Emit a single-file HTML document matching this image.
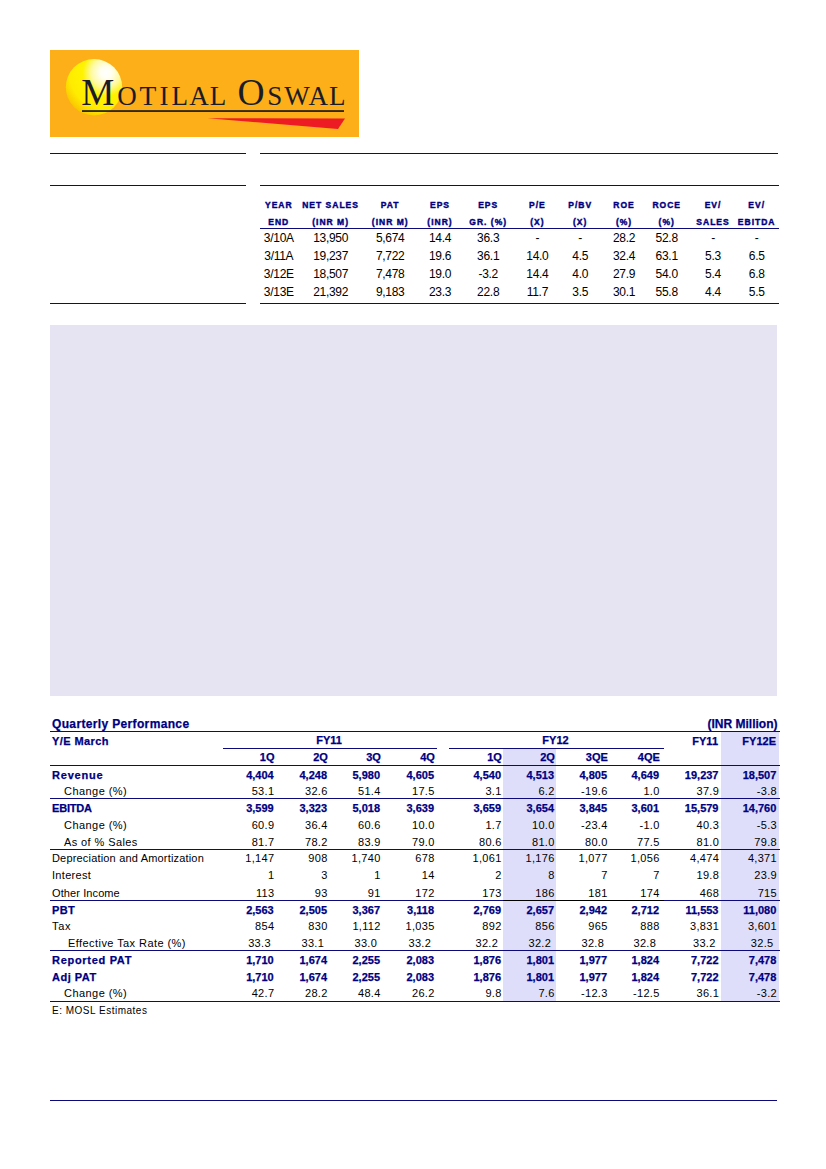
<!DOCTYPE html>
<html><head><meta charset="utf-8"><title>Motilal Oswal</title>
<style>
html,body{margin:0;padding:0;background:#fff;}
body{width:826px;height:1169px;position:relative;overflow:hidden;font-family:"Liberation Sans",sans-serif;color:#000;}
.t{position:absolute;white-space:nowrap;}
.r{position:absolute;}
</style></head><body>
<svg class="logo" width="310" height="88" viewBox="0 0 310 88" style="position:absolute;left:50px;top:50px">
<defs>
<radialGradient id="sun" cx="0.71" cy="0.24" r="0.86" fx="0.71" fy="0.24">
<stop offset="0" stop-color="#ffffff"/>
<stop offset="0.12" stop-color="#fffff0"/>
<stop offset="0.3" stop-color="#fffaa0"/>
<stop offset="0.48" stop-color="#fff300"/>
<stop offset="0.75" stop-color="#ffec00"/>
<stop offset="0.9" stop-color="#fbd200"/>
<stop offset="1" stop-color="#f8c000"/>
</radialGradient>
</defs>
<rect x="0" y="0" width="309" height="87" fill="#fcaf19"/>
<circle cx="44" cy="37.3" r="28.2" fill="url(#sun)"/>
<polygon points="157.5,68.2 295,68.4 288,79" fill="#ed1c24"/>
<rect x="32" y="60.2" width="262" height="1.7" fill="#1a1a26"/>
<g font-family="Liberation Serif" fill="#1c1c28" text-anchor="middle"><text x="47.80" y="54.8" font-size="37.2">M</text><text x="76.90" y="54.8" font-size="27">O</text><text x="98.00" y="54.8" font-size="27.5">T</text><text x="114.00" y="54.8" font-size="27">I</text><text x="129.70" y="54.8" font-size="27">L</text><text x="149.00" y="54.8" font-size="27">A</text><text x="168.00" y="54.8" font-size="27">L</text><text x="201.10" y="54.8" font-size="37.5">O</text><text x="224.80" y="54.8" font-size="27">S</text><text x="246.90" y="54.8" font-size="27">W</text><text x="268.30" y="54.8" font-size="27">A</text><text x="287.20" y="54.8" font-size="27">L</text></g>
</svg>
<div class="r" style="left:50px;top:153px;width:196px;height:1px;background:#0c0a7a"></div>
<div class="r" style="left:260px;top:153px;width:518px;height:1px;background:#0c0a7a"></div>
<div class="r" style="left:50px;top:185px;width:196px;height:1px;background:#0c0a7a"></div>
<div class="r" style="left:260px;top:185px;width:519px;height:1px;background:#0c0a7a"></div>
<div class="r" style="left:260px;top:228px;width:519px;height:1px;background:#0c0a7a"></div>
<div class="r" style="left:50px;top:303px;width:196px;height:1px;background:#0c0a7a"></div>
<div class="r" style="left:260px;top:303px;width:519px;height:1px;background:#0c0a7a"></div>
<div class="t" style="top:200.80px;font-size:8.5px;line-height:8.5px;font-weight:bold;-webkit-text-stroke:0.25px;color:#000080;letter-spacing:1.0px;left:218.80px;width:120px;text-align:center;-webkit-text-stroke:0.4px #000080;">YEAR</div>
<div class="t" style="top:217.80px;font-size:8.5px;line-height:8.5px;font-weight:bold;-webkit-text-stroke:0.25px;color:#000080;letter-spacing:1.0px;left:218.80px;width:120px;text-align:center;-webkit-text-stroke:0.4px #000080;">END</div>
<div class="t" style="top:200.80px;font-size:8.5px;line-height:8.5px;font-weight:bold;-webkit-text-stroke:0.25px;color:#000080;letter-spacing:1.0px;left:270.60px;width:120px;text-align:center;-webkit-text-stroke:0.4px #000080;">NET SALES</div>
<div class="t" style="top:217.80px;font-size:8.5px;line-height:8.5px;font-weight:bold;-webkit-text-stroke:0.25px;color:#000080;letter-spacing:1.0px;left:270.60px;width:120px;text-align:center;-webkit-text-stroke:0.4px #000080;">(INR M)</div>
<div class="t" style="top:200.80px;font-size:8.5px;line-height:8.5px;font-weight:bold;-webkit-text-stroke:0.25px;color:#000080;letter-spacing:1.0px;left:330.20px;width:120px;text-align:center;-webkit-text-stroke:0.4px #000080;">PAT</div>
<div class="t" style="top:217.80px;font-size:8.5px;line-height:8.5px;font-weight:bold;-webkit-text-stroke:0.25px;color:#000080;letter-spacing:1.0px;left:330.20px;width:120px;text-align:center;-webkit-text-stroke:0.4px #000080;">(INR M)</div>
<div class="t" style="top:200.80px;font-size:8.5px;line-height:8.5px;font-weight:bold;-webkit-text-stroke:0.25px;color:#000080;letter-spacing:1.0px;left:380.00px;width:120px;text-align:center;-webkit-text-stroke:0.4px #000080;">EPS</div>
<div class="t" style="top:217.80px;font-size:8.5px;line-height:8.5px;font-weight:bold;-webkit-text-stroke:0.25px;color:#000080;letter-spacing:1.0px;left:380.00px;width:120px;text-align:center;-webkit-text-stroke:0.4px #000080;">(INR)</div>
<div class="t" style="top:200.80px;font-size:8.5px;line-height:8.5px;font-weight:bold;-webkit-text-stroke:0.25px;color:#000080;letter-spacing:1.0px;left:428.20px;width:120px;text-align:center;-webkit-text-stroke:0.4px #000080;">EPS</div>
<div class="t" style="top:217.80px;font-size:8.5px;line-height:8.5px;font-weight:bold;-webkit-text-stroke:0.25px;color:#000080;letter-spacing:1.0px;left:428.20px;width:120px;text-align:center;-webkit-text-stroke:0.4px #000080;">GR. (%)</div>
<div class="t" style="top:200.80px;font-size:8.5px;line-height:8.5px;font-weight:bold;-webkit-text-stroke:0.25px;color:#000080;letter-spacing:1.0px;left:477.40px;width:120px;text-align:center;-webkit-text-stroke:0.4px #000080;">P/E</div>
<div class="t" style="top:217.80px;font-size:8.5px;line-height:8.5px;font-weight:bold;-webkit-text-stroke:0.25px;color:#000080;letter-spacing:1.0px;left:477.40px;width:120px;text-align:center;-webkit-text-stroke:0.4px #000080;">(X)</div>
<div class="t" style="top:200.80px;font-size:8.5px;line-height:8.5px;font-weight:bold;-webkit-text-stroke:0.25px;color:#000080;letter-spacing:1.0px;left:520.20px;width:120px;text-align:center;-webkit-text-stroke:0.4px #000080;">P/BV</div>
<div class="t" style="top:217.80px;font-size:8.5px;line-height:8.5px;font-weight:bold;-webkit-text-stroke:0.25px;color:#000080;letter-spacing:1.0px;left:520.20px;width:120px;text-align:center;-webkit-text-stroke:0.4px #000080;">(X)</div>
<div class="t" style="top:200.80px;font-size:8.5px;line-height:8.5px;font-weight:bold;-webkit-text-stroke:0.25px;color:#000080;letter-spacing:1.0px;left:564.00px;width:120px;text-align:center;-webkit-text-stroke:0.4px #000080;">ROE</div>
<div class="t" style="top:217.80px;font-size:8.5px;line-height:8.5px;font-weight:bold;-webkit-text-stroke:0.25px;color:#000080;letter-spacing:1.0px;left:564.00px;width:120px;text-align:center;-webkit-text-stroke:0.4px #000080;">(%)</div>
<div class="t" style="top:200.80px;font-size:8.5px;line-height:8.5px;font-weight:bold;-webkit-text-stroke:0.25px;color:#000080;letter-spacing:1.0px;left:606.70px;width:120px;text-align:center;-webkit-text-stroke:0.4px #000080;">ROCE</div>
<div class="t" style="top:217.80px;font-size:8.5px;line-height:8.5px;font-weight:bold;-webkit-text-stroke:0.25px;color:#000080;letter-spacing:1.0px;left:606.70px;width:120px;text-align:center;-webkit-text-stroke:0.4px #000080;">(%)</div>
<div class="t" style="top:200.80px;font-size:8.5px;line-height:8.5px;font-weight:bold;-webkit-text-stroke:0.25px;color:#000080;letter-spacing:1.0px;left:653.00px;width:120px;text-align:center;-webkit-text-stroke:0.4px #000080;">EV/</div>
<div class="t" style="top:217.80px;font-size:8.5px;line-height:8.5px;font-weight:bold;-webkit-text-stroke:0.25px;color:#000080;letter-spacing:1.0px;left:653.00px;width:120px;text-align:center;-webkit-text-stroke:0.4px #000080;">SALES</div>
<div class="t" style="top:200.80px;font-size:8.5px;line-height:8.5px;font-weight:bold;-webkit-text-stroke:0.25px;color:#000080;letter-spacing:1.0px;left:696.70px;width:120px;text-align:center;-webkit-text-stroke:0.4px #000080;">EV/</div>
<div class="t" style="top:217.80px;font-size:8.5px;line-height:8.5px;font-weight:bold;-webkit-text-stroke:0.25px;color:#000080;letter-spacing:1.0px;left:696.70px;width:120px;text-align:center;-webkit-text-stroke:0.4px #000080;">EBITDA</div>
<div class="t" style="top:231.84px;font-size:12px;line-height:12px;letter-spacing:-0.3px;left:218.80px;width:120px;text-align:center;">3/10A</div>
<div class="t" style="top:231.84px;font-size:12px;line-height:12px;letter-spacing:-0.3px;left:270.60px;width:120px;text-align:center;">13,950</div>
<div class="t" style="top:231.84px;font-size:12px;line-height:12px;letter-spacing:-0.3px;left:330.20px;width:120px;text-align:center;">5,674</div>
<div class="t" style="top:231.84px;font-size:12px;line-height:12px;letter-spacing:-0.3px;left:380.00px;width:120px;text-align:center;">14.4</div>
<div class="t" style="top:231.84px;font-size:12px;line-height:12px;letter-spacing:-0.3px;left:428.20px;width:120px;text-align:center;">36.3</div>
<div class="t" style="top:231.84px;font-size:12px;line-height:12px;letter-spacing:-0.3px;left:477.40px;width:120px;text-align:center;">-</div>
<div class="t" style="top:231.84px;font-size:12px;line-height:12px;letter-spacing:-0.3px;left:520.20px;width:120px;text-align:center;">-</div>
<div class="t" style="top:231.84px;font-size:12px;line-height:12px;letter-spacing:-0.3px;left:564.00px;width:120px;text-align:center;">28.2</div>
<div class="t" style="top:231.84px;font-size:12px;line-height:12px;letter-spacing:-0.3px;left:606.70px;width:120px;text-align:center;">52.8</div>
<div class="t" style="top:231.84px;font-size:12px;line-height:12px;letter-spacing:-0.3px;left:653.00px;width:120px;text-align:center;">-</div>
<div class="t" style="top:231.84px;font-size:12px;line-height:12px;letter-spacing:-0.3px;left:696.70px;width:120px;text-align:center;">-</div>
<div class="t" style="top:249.84px;font-size:12px;line-height:12px;letter-spacing:-0.3px;left:218.80px;width:120px;text-align:center;">3/11A</div>
<div class="t" style="top:249.84px;font-size:12px;line-height:12px;letter-spacing:-0.3px;left:270.60px;width:120px;text-align:center;">19,237</div>
<div class="t" style="top:249.84px;font-size:12px;line-height:12px;letter-spacing:-0.3px;left:330.20px;width:120px;text-align:center;">7,722</div>
<div class="t" style="top:249.84px;font-size:12px;line-height:12px;letter-spacing:-0.3px;left:380.00px;width:120px;text-align:center;">19.6</div>
<div class="t" style="top:249.84px;font-size:12px;line-height:12px;letter-spacing:-0.3px;left:428.20px;width:120px;text-align:center;">36.1</div>
<div class="t" style="top:249.84px;font-size:12px;line-height:12px;letter-spacing:-0.3px;left:477.40px;width:120px;text-align:center;">14.0</div>
<div class="t" style="top:249.84px;font-size:12px;line-height:12px;letter-spacing:-0.3px;left:520.20px;width:120px;text-align:center;">4.5</div>
<div class="t" style="top:249.84px;font-size:12px;line-height:12px;letter-spacing:-0.3px;left:564.00px;width:120px;text-align:center;">32.4</div>
<div class="t" style="top:249.84px;font-size:12px;line-height:12px;letter-spacing:-0.3px;left:606.70px;width:120px;text-align:center;">63.1</div>
<div class="t" style="top:249.84px;font-size:12px;line-height:12px;letter-spacing:-0.3px;left:653.00px;width:120px;text-align:center;">5.3</div>
<div class="t" style="top:249.84px;font-size:12px;line-height:12px;letter-spacing:-0.3px;left:696.70px;width:120px;text-align:center;">6.5</div>
<div class="t" style="top:267.84px;font-size:12px;line-height:12px;letter-spacing:-0.3px;left:218.80px;width:120px;text-align:center;">3/12E</div>
<div class="t" style="top:267.84px;font-size:12px;line-height:12px;letter-spacing:-0.3px;left:270.60px;width:120px;text-align:center;">18,507</div>
<div class="t" style="top:267.84px;font-size:12px;line-height:12px;letter-spacing:-0.3px;left:330.20px;width:120px;text-align:center;">7,478</div>
<div class="t" style="top:267.84px;font-size:12px;line-height:12px;letter-spacing:-0.3px;left:380.00px;width:120px;text-align:center;">19.0</div>
<div class="t" style="top:267.84px;font-size:12px;line-height:12px;letter-spacing:-0.3px;left:428.20px;width:120px;text-align:center;">-3.2</div>
<div class="t" style="top:267.84px;font-size:12px;line-height:12px;letter-spacing:-0.3px;left:477.40px;width:120px;text-align:center;">14.4</div>
<div class="t" style="top:267.84px;font-size:12px;line-height:12px;letter-spacing:-0.3px;left:520.20px;width:120px;text-align:center;">4.0</div>
<div class="t" style="top:267.84px;font-size:12px;line-height:12px;letter-spacing:-0.3px;left:564.00px;width:120px;text-align:center;">27.9</div>
<div class="t" style="top:267.84px;font-size:12px;line-height:12px;letter-spacing:-0.3px;left:606.70px;width:120px;text-align:center;">54.0</div>
<div class="t" style="top:267.84px;font-size:12px;line-height:12px;letter-spacing:-0.3px;left:653.00px;width:120px;text-align:center;">5.4</div>
<div class="t" style="top:267.84px;font-size:12px;line-height:12px;letter-spacing:-0.3px;left:696.70px;width:120px;text-align:center;">6.8</div>
<div class="t" style="top:285.84px;font-size:12px;line-height:12px;letter-spacing:-0.3px;left:218.80px;width:120px;text-align:center;">3/13E</div>
<div class="t" style="top:285.84px;font-size:12px;line-height:12px;letter-spacing:-0.3px;left:270.60px;width:120px;text-align:center;">21,392</div>
<div class="t" style="top:285.84px;font-size:12px;line-height:12px;letter-spacing:-0.3px;left:330.20px;width:120px;text-align:center;">9,183</div>
<div class="t" style="top:285.84px;font-size:12px;line-height:12px;letter-spacing:-0.3px;left:380.00px;width:120px;text-align:center;">23.3</div>
<div class="t" style="top:285.84px;font-size:12px;line-height:12px;letter-spacing:-0.3px;left:428.20px;width:120px;text-align:center;">22.8</div>
<div class="t" style="top:285.84px;font-size:12px;line-height:12px;letter-spacing:-0.3px;left:477.40px;width:120px;text-align:center;">11.7</div>
<div class="t" style="top:285.84px;font-size:12px;line-height:12px;letter-spacing:-0.3px;left:520.20px;width:120px;text-align:center;">3.5</div>
<div class="t" style="top:285.84px;font-size:12px;line-height:12px;letter-spacing:-0.3px;left:564.00px;width:120px;text-align:center;">30.1</div>
<div class="t" style="top:285.84px;font-size:12px;line-height:12px;letter-spacing:-0.3px;left:606.70px;width:120px;text-align:center;">55.8</div>
<div class="t" style="top:285.84px;font-size:12px;line-height:12px;letter-spacing:-0.3px;left:653.00px;width:120px;text-align:center;">4.4</div>
<div class="t" style="top:285.84px;font-size:12px;line-height:12px;letter-spacing:-0.3px;left:696.70px;width:120px;text-align:center;">5.5</div>
<div class="r" style="left:50px;top:325px;width:727px;height:371px;background:#e6e4f2"></div>
<div class="r" style="left:503px;top:749px;width:53px;height:252px;background:#dedefa"></div>
<div class="r" style="left:721px;top:732px;width:58px;height:269px;background:#dedefa"></div>
<div class="t" style="top:718.34px;font-size:12px;line-height:12px;font-weight:bold;-webkit-text-stroke:0.25px;color:#000080;letter-spacing:0.35px;left:52.00px;">Quarterly Performance</div>
<div class="t" style="top:718.34px;font-size:12px;line-height:12px;font-weight:bold;-webkit-text-stroke:0.25px;color:#000080;right:48.50px;text-align:right;">(INR Million)</div>
<div class="r" style="left:50px;top:731px;width:730px;height:1px;background:#0c0a7a"></div>
<div class="t" style="top:736.19px;font-size:11px;line-height:11px;font-weight:bold;-webkit-text-stroke:0.25px;color:#000080;letter-spacing:0.4px;left:52.00px;">Y/E March</div>
<div class="t" style="top:734.69px;font-size:11px;line-height:11px;font-weight:bold;-webkit-text-stroke:0.25px;color:#000080;left:269.00px;width:120px;text-align:center;">FY11</div>
<div class="t" style="top:734.69px;font-size:11px;line-height:11px;font-weight:bold;-webkit-text-stroke:0.25px;color:#000080;left:495.50px;width:120px;text-align:center;">FY12</div>
<div class="t" style="top:736.19px;font-size:11px;line-height:11px;font-weight:bold;-webkit-text-stroke:0.25px;color:#000080;right:108.00px;text-align:right;">FY11</div>
<div class="t" style="top:736.19px;font-size:11px;line-height:11px;font-weight:bold;-webkit-text-stroke:0.25px;color:#000080;right:50.00px;text-align:right;">FY12E</div>
<div class="r" style="left:223px;top:748px;width:214px;height:1px;background:#0c0a7a"></div>
<div class="r" style="left:449px;top:748px;width:215px;height:1px;background:#0c0a7a"></div>
<div class="t" style="top:752.19px;font-size:11px;line-height:11px;font-weight:bold;-webkit-text-stroke:0.25px;color:#000080;right:551.50px;text-align:right;">1Q</div>
<div class="t" style="top:752.19px;font-size:11px;line-height:11px;font-weight:bold;-webkit-text-stroke:0.25px;color:#000080;right:498.20px;text-align:right;">2Q</div>
<div class="t" style="top:752.19px;font-size:11px;line-height:11px;font-weight:bold;-webkit-text-stroke:0.25px;color:#000080;right:445.20px;text-align:right;">3Q</div>
<div class="t" style="top:752.19px;font-size:11px;line-height:11px;font-weight:bold;-webkit-text-stroke:0.25px;color:#000080;right:391.20px;text-align:right;">4Q</div>
<div class="t" style="top:752.19px;font-size:11px;line-height:11px;font-weight:bold;-webkit-text-stroke:0.25px;color:#000080;right:324.20px;text-align:right;">1Q</div>
<div class="t" style="top:752.19px;font-size:11px;line-height:11px;font-weight:bold;-webkit-text-stroke:0.25px;color:#000080;right:271.20px;text-align:right;">2Q</div>
<div class="t" style="top:752.19px;font-size:11px;line-height:11px;font-weight:bold;-webkit-text-stroke:0.25px;color:#000080;right:218.20px;text-align:right;">3QE</div>
<div class="t" style="top:752.19px;font-size:11px;line-height:11px;font-weight:bold;-webkit-text-stroke:0.25px;color:#000080;right:166.20px;text-align:right;">4QE</div>
<div class="r" style="left:50px;top:765px;width:730px;height:1px;background:#0c0a7a"></div>
<div class="t" style="top:769.69px;font-size:11px;line-height:11px;font-weight:bold;-webkit-text-stroke:0.25px;color:#000080;letter-spacing:0.8px;left:52.00px;">Revenue</div>
<div class="t" style="top:769.69px;font-size:11px;line-height:11px;font-weight:bold;-webkit-text-stroke:0.25px;color:#000080;right:552.30px;text-align:right;">4,404</div>
<div class="t" style="top:769.69px;font-size:11px;line-height:11px;font-weight:bold;-webkit-text-stroke:0.25px;color:#000080;right:499.00px;text-align:right;">4,248</div>
<div class="t" style="top:769.69px;font-size:11px;line-height:11px;font-weight:bold;-webkit-text-stroke:0.25px;color:#000080;right:446.00px;text-align:right;">5,980</div>
<div class="t" style="top:769.69px;font-size:11px;line-height:11px;font-weight:bold;-webkit-text-stroke:0.25px;color:#000080;right:392.00px;text-align:right;">4,605</div>
<div class="t" style="top:769.69px;font-size:11px;line-height:11px;font-weight:bold;-webkit-text-stroke:0.25px;color:#000080;right:325.00px;text-align:right;">4,540</div>
<div class="t" style="top:769.69px;font-size:11px;line-height:11px;font-weight:bold;-webkit-text-stroke:0.25px;color:#000080;right:272.00px;text-align:right;">4,513</div>
<div class="t" style="top:769.69px;font-size:11px;line-height:11px;font-weight:bold;-webkit-text-stroke:0.25px;color:#000080;right:219.00px;text-align:right;">4,805</div>
<div class="t" style="top:769.69px;font-size:11px;line-height:11px;font-weight:bold;-webkit-text-stroke:0.25px;color:#000080;right:167.00px;text-align:right;">4,649</div>
<div class="t" style="top:769.69px;font-size:11px;line-height:11px;font-weight:bold;-webkit-text-stroke:0.25px;color:#000080;right:107.50px;text-align:right;">19,237</div>
<div class="t" style="top:769.69px;font-size:11px;line-height:11px;font-weight:bold;-webkit-text-stroke:0.25px;color:#000080;right:49.70px;text-align:right;">18,507</div>
<div class="t" style="top:785.69px;font-size:11px;line-height:11px;letter-spacing:0.45px;left:64.00px;">Change (%)</div>
<div class="t" style="top:785.69px;font-size:11px;line-height:11px;letter-spacing:0.3px;right:551.70px;text-align:right;">53.1</div>
<div class="t" style="top:785.69px;font-size:11px;line-height:11px;letter-spacing:0.3px;right:498.40px;text-align:right;">32.6</div>
<div class="t" style="top:785.69px;font-size:11px;line-height:11px;letter-spacing:0.3px;right:445.40px;text-align:right;">51.4</div>
<div class="t" style="top:785.69px;font-size:11px;line-height:11px;letter-spacing:0.3px;right:391.40px;text-align:right;">17.5</div>
<div class="t" style="top:785.69px;font-size:11px;line-height:11px;letter-spacing:0.3px;right:324.40px;text-align:right;">3.1</div>
<div class="t" style="top:785.69px;font-size:11px;line-height:11px;letter-spacing:0.3px;right:271.40px;text-align:right;">6.2</div>
<div class="t" style="top:785.69px;font-size:11px;line-height:11px;letter-spacing:0.3px;right:218.40px;text-align:right;">-19.6</div>
<div class="t" style="top:785.69px;font-size:11px;line-height:11px;letter-spacing:0.3px;right:166.40px;text-align:right;">1.0</div>
<div class="t" style="top:785.69px;font-size:11px;line-height:11px;letter-spacing:0.3px;right:106.90px;text-align:right;">37.9</div>
<div class="t" style="top:785.69px;font-size:11px;line-height:11px;letter-spacing:0.3px;right:49.10px;text-align:right;">-3.8</div>
<div class="t" style="top:802.69px;font-size:11px;line-height:11px;font-weight:bold;-webkit-text-stroke:0.25px;color:#000080;letter-spacing:-0.2px;left:52.00px;">EBITDA</div>
<div class="t" style="top:802.69px;font-size:11px;line-height:11px;font-weight:bold;-webkit-text-stroke:0.25px;color:#000080;right:552.30px;text-align:right;">3,599</div>
<div class="t" style="top:802.69px;font-size:11px;line-height:11px;font-weight:bold;-webkit-text-stroke:0.25px;color:#000080;right:499.00px;text-align:right;">3,323</div>
<div class="t" style="top:802.69px;font-size:11px;line-height:11px;font-weight:bold;-webkit-text-stroke:0.25px;color:#000080;right:446.00px;text-align:right;">5,018</div>
<div class="t" style="top:802.69px;font-size:11px;line-height:11px;font-weight:bold;-webkit-text-stroke:0.25px;color:#000080;right:392.00px;text-align:right;">3,639</div>
<div class="t" style="top:802.69px;font-size:11px;line-height:11px;font-weight:bold;-webkit-text-stroke:0.25px;color:#000080;right:325.00px;text-align:right;">3,659</div>
<div class="t" style="top:802.69px;font-size:11px;line-height:11px;font-weight:bold;-webkit-text-stroke:0.25px;color:#000080;right:272.00px;text-align:right;">3,654</div>
<div class="t" style="top:802.69px;font-size:11px;line-height:11px;font-weight:bold;-webkit-text-stroke:0.25px;color:#000080;right:219.00px;text-align:right;">3,845</div>
<div class="t" style="top:802.69px;font-size:11px;line-height:11px;font-weight:bold;-webkit-text-stroke:0.25px;color:#000080;right:167.00px;text-align:right;">3,601</div>
<div class="t" style="top:802.69px;font-size:11px;line-height:11px;font-weight:bold;-webkit-text-stroke:0.25px;color:#000080;right:107.50px;text-align:right;">15,579</div>
<div class="t" style="top:802.69px;font-size:11px;line-height:11px;font-weight:bold;-webkit-text-stroke:0.25px;color:#000080;right:49.70px;text-align:right;">14,760</div>
<div class="t" style="top:819.69px;font-size:11px;line-height:11px;letter-spacing:0.45px;left:64.00px;">Change (%)</div>
<div class="t" style="top:819.69px;font-size:11px;line-height:11px;letter-spacing:0.3px;right:551.70px;text-align:right;">60.9</div>
<div class="t" style="top:819.69px;font-size:11px;line-height:11px;letter-spacing:0.3px;right:498.40px;text-align:right;">36.4</div>
<div class="t" style="top:819.69px;font-size:11px;line-height:11px;letter-spacing:0.3px;right:445.40px;text-align:right;">60.6</div>
<div class="t" style="top:819.69px;font-size:11px;line-height:11px;letter-spacing:0.3px;right:391.40px;text-align:right;">10.0</div>
<div class="t" style="top:819.69px;font-size:11px;line-height:11px;letter-spacing:0.3px;right:324.40px;text-align:right;">1.7</div>
<div class="t" style="top:819.69px;font-size:11px;line-height:11px;letter-spacing:0.3px;right:271.40px;text-align:right;">10.0</div>
<div class="t" style="top:819.69px;font-size:11px;line-height:11px;letter-spacing:0.3px;right:218.40px;text-align:right;">-23.4</div>
<div class="t" style="top:819.69px;font-size:11px;line-height:11px;letter-spacing:0.3px;right:166.40px;text-align:right;">-1.0</div>
<div class="t" style="top:819.69px;font-size:11px;line-height:11px;letter-spacing:0.3px;right:106.90px;text-align:right;">40.3</div>
<div class="t" style="top:819.69px;font-size:11px;line-height:11px;letter-spacing:0.3px;right:49.10px;text-align:right;">-5.3</div>
<div class="t" style="top:836.69px;font-size:11px;line-height:11px;letter-spacing:0.4px;left:64.00px;">As of % Sales</div>
<div class="t" style="top:836.69px;font-size:11px;line-height:11px;letter-spacing:0.3px;right:551.70px;text-align:right;">81.7</div>
<div class="t" style="top:836.69px;font-size:11px;line-height:11px;letter-spacing:0.3px;right:498.40px;text-align:right;">78.2</div>
<div class="t" style="top:836.69px;font-size:11px;line-height:11px;letter-spacing:0.3px;right:445.40px;text-align:right;">83.9</div>
<div class="t" style="top:836.69px;font-size:11px;line-height:11px;letter-spacing:0.3px;right:391.40px;text-align:right;">79.0</div>
<div class="t" style="top:836.69px;font-size:11px;line-height:11px;letter-spacing:0.3px;right:324.40px;text-align:right;">80.6</div>
<div class="t" style="top:836.69px;font-size:11px;line-height:11px;letter-spacing:0.3px;right:271.40px;text-align:right;">81.0</div>
<div class="t" style="top:836.69px;font-size:11px;line-height:11px;letter-spacing:0.3px;right:218.40px;text-align:right;">80.0</div>
<div class="t" style="top:836.69px;font-size:11px;line-height:11px;letter-spacing:0.3px;right:166.40px;text-align:right;">77.5</div>
<div class="t" style="top:836.69px;font-size:11px;line-height:11px;letter-spacing:0.3px;right:106.90px;text-align:right;">81.0</div>
<div class="t" style="top:836.69px;font-size:11px;line-height:11px;letter-spacing:0.3px;right:49.10px;text-align:right;">79.8</div>
<div class="t" style="top:852.69px;font-size:11px;line-height:11px;letter-spacing:0.18px;left:52.00px;">Depreciation and Amortization</div>
<div class="t" style="top:852.69px;font-size:11px;line-height:11px;letter-spacing:0.3px;right:551.70px;text-align:right;">1,147</div>
<div class="t" style="top:852.69px;font-size:11px;line-height:11px;letter-spacing:0.3px;right:498.40px;text-align:right;">908</div>
<div class="t" style="top:852.69px;font-size:11px;line-height:11px;letter-spacing:0.3px;right:445.40px;text-align:right;">1,740</div>
<div class="t" style="top:852.69px;font-size:11px;line-height:11px;letter-spacing:0.3px;right:391.40px;text-align:right;">678</div>
<div class="t" style="top:852.69px;font-size:11px;line-height:11px;letter-spacing:0.3px;right:324.40px;text-align:right;">1,061</div>
<div class="t" style="top:852.69px;font-size:11px;line-height:11px;letter-spacing:0.3px;right:271.40px;text-align:right;">1,176</div>
<div class="t" style="top:852.69px;font-size:11px;line-height:11px;letter-spacing:0.3px;right:218.40px;text-align:right;">1,077</div>
<div class="t" style="top:852.69px;font-size:11px;line-height:11px;letter-spacing:0.3px;right:166.40px;text-align:right;">1,056</div>
<div class="t" style="top:852.69px;font-size:11px;line-height:11px;letter-spacing:0.3px;right:106.90px;text-align:right;">4,474</div>
<div class="t" style="top:852.69px;font-size:11px;line-height:11px;letter-spacing:0.3px;right:49.10px;text-align:right;">4,371</div>
<div class="t" style="top:869.69px;font-size:11px;line-height:11px;letter-spacing:0.3px;left:52.00px;">Interest</div>
<div class="t" style="top:869.69px;font-size:11px;line-height:11px;letter-spacing:0.3px;right:551.70px;text-align:right;">1</div>
<div class="t" style="top:869.69px;font-size:11px;line-height:11px;letter-spacing:0.3px;right:498.40px;text-align:right;">3</div>
<div class="t" style="top:869.69px;font-size:11px;line-height:11px;letter-spacing:0.3px;right:445.40px;text-align:right;">1</div>
<div class="t" style="top:869.69px;font-size:11px;line-height:11px;letter-spacing:0.3px;right:391.40px;text-align:right;">14</div>
<div class="t" style="top:869.69px;font-size:11px;line-height:11px;letter-spacing:0.3px;right:324.40px;text-align:right;">2</div>
<div class="t" style="top:869.69px;font-size:11px;line-height:11px;letter-spacing:0.3px;right:271.40px;text-align:right;">8</div>
<div class="t" style="top:869.69px;font-size:11px;line-height:11px;letter-spacing:0.3px;right:218.40px;text-align:right;">7</div>
<div class="t" style="top:869.69px;font-size:11px;line-height:11px;letter-spacing:0.3px;right:166.40px;text-align:right;">7</div>
<div class="t" style="top:869.69px;font-size:11px;line-height:11px;letter-spacing:0.3px;right:106.90px;text-align:right;">19.8</div>
<div class="t" style="top:869.69px;font-size:11px;line-height:11px;letter-spacing:0.3px;right:49.10px;text-align:right;">23.9</div>
<div class="t" style="top:887.69px;font-size:11px;line-height:11px;letter-spacing:0.1px;left:52.00px;">Other Income</div>
<div class="t" style="top:887.69px;font-size:11px;line-height:11px;letter-spacing:0.3px;right:551.70px;text-align:right;">113</div>
<div class="t" style="top:887.69px;font-size:11px;line-height:11px;letter-spacing:0.3px;right:498.40px;text-align:right;">93</div>
<div class="t" style="top:887.69px;font-size:11px;line-height:11px;letter-spacing:0.3px;right:445.40px;text-align:right;">91</div>
<div class="t" style="top:887.69px;font-size:11px;line-height:11px;letter-spacing:0.3px;right:391.40px;text-align:right;">172</div>
<div class="t" style="top:887.69px;font-size:11px;line-height:11px;letter-spacing:0.3px;right:324.40px;text-align:right;">173</div>
<div class="t" style="top:887.69px;font-size:11px;line-height:11px;letter-spacing:0.3px;right:271.40px;text-align:right;">186</div>
<div class="t" style="top:887.69px;font-size:11px;line-height:11px;letter-spacing:0.3px;right:218.40px;text-align:right;">181</div>
<div class="t" style="top:887.69px;font-size:11px;line-height:11px;letter-spacing:0.3px;right:166.40px;text-align:right;">174</div>
<div class="t" style="top:887.69px;font-size:11px;line-height:11px;letter-spacing:0.3px;right:106.90px;text-align:right;">468</div>
<div class="t" style="top:887.69px;font-size:11px;line-height:11px;letter-spacing:0.3px;right:49.10px;text-align:right;">715</div>
<div class="t" style="top:904.69px;font-size:11px;line-height:11px;font-weight:bold;-webkit-text-stroke:0.25px;color:#000080;letter-spacing:0.3px;left:52.00px;">PBT</div>
<div class="t" style="top:904.69px;font-size:11px;line-height:11px;font-weight:bold;-webkit-text-stroke:0.25px;color:#000080;right:552.30px;text-align:right;">2,563</div>
<div class="t" style="top:904.69px;font-size:11px;line-height:11px;font-weight:bold;-webkit-text-stroke:0.25px;color:#000080;right:499.00px;text-align:right;">2,505</div>
<div class="t" style="top:904.69px;font-size:11px;line-height:11px;font-weight:bold;-webkit-text-stroke:0.25px;color:#000080;right:446.00px;text-align:right;">3,367</div>
<div class="t" style="top:904.69px;font-size:11px;line-height:11px;font-weight:bold;-webkit-text-stroke:0.25px;color:#000080;right:392.00px;text-align:right;">3,118</div>
<div class="t" style="top:904.69px;font-size:11px;line-height:11px;font-weight:bold;-webkit-text-stroke:0.25px;color:#000080;right:325.00px;text-align:right;">2,769</div>
<div class="t" style="top:904.69px;font-size:11px;line-height:11px;font-weight:bold;-webkit-text-stroke:0.25px;color:#000080;right:272.00px;text-align:right;">2,657</div>
<div class="t" style="top:904.69px;font-size:11px;line-height:11px;font-weight:bold;-webkit-text-stroke:0.25px;color:#000080;right:219.00px;text-align:right;">2,942</div>
<div class="t" style="top:904.69px;font-size:11px;line-height:11px;font-weight:bold;-webkit-text-stroke:0.25px;color:#000080;right:167.00px;text-align:right;">2,712</div>
<div class="t" style="top:904.69px;font-size:11px;line-height:11px;font-weight:bold;-webkit-text-stroke:0.25px;color:#000080;right:107.50px;text-align:right;">11,553</div>
<div class="t" style="top:904.69px;font-size:11px;line-height:11px;font-weight:bold;-webkit-text-stroke:0.25px;color:#000080;right:49.70px;text-align:right;">11,080</div>
<div class="t" style="top:920.69px;font-size:11px;line-height:11px;letter-spacing:0.7px;left:52.00px;">Tax</div>
<div class="t" style="top:920.69px;font-size:11px;line-height:11px;letter-spacing:0.3px;right:551.70px;text-align:right;">854</div>
<div class="t" style="top:920.69px;font-size:11px;line-height:11px;letter-spacing:0.3px;right:498.40px;text-align:right;">830</div>
<div class="t" style="top:920.69px;font-size:11px;line-height:11px;letter-spacing:0.3px;right:445.40px;text-align:right;">1,112</div>
<div class="t" style="top:920.69px;font-size:11px;line-height:11px;letter-spacing:0.3px;right:391.40px;text-align:right;">1,035</div>
<div class="t" style="top:920.69px;font-size:11px;line-height:11px;letter-spacing:0.3px;right:324.40px;text-align:right;">892</div>
<div class="t" style="top:920.69px;font-size:11px;line-height:11px;letter-spacing:0.3px;right:271.40px;text-align:right;">856</div>
<div class="t" style="top:920.69px;font-size:11px;line-height:11px;letter-spacing:0.3px;right:218.40px;text-align:right;">965</div>
<div class="t" style="top:920.69px;font-size:11px;line-height:11px;letter-spacing:0.3px;right:166.40px;text-align:right;">888</div>
<div class="t" style="top:920.69px;font-size:11px;line-height:11px;letter-spacing:0.3px;right:106.90px;text-align:right;">3,831</div>
<div class="t" style="top:920.69px;font-size:11px;line-height:11px;letter-spacing:0.3px;right:49.10px;text-align:right;">3,601</div>
<div class="t" style="top:937.69px;font-size:11px;line-height:11px;letter-spacing:0.43px;left:68.00px;">Effective Tax Rate (%)</div>
<div class="t" style="top:937.69px;font-size:11px;line-height:11px;letter-spacing:0.3px;right:555.20px;text-align:right;">33.3</div>
<div class="t" style="top:937.69px;font-size:11px;line-height:11px;letter-spacing:0.3px;right:501.90px;text-align:right;">33.1</div>
<div class="t" style="top:937.69px;font-size:11px;line-height:11px;letter-spacing:0.3px;right:448.90px;text-align:right;">33.0</div>
<div class="t" style="top:937.69px;font-size:11px;line-height:11px;letter-spacing:0.3px;right:394.90px;text-align:right;">33.2</div>
<div class="t" style="top:937.69px;font-size:11px;line-height:11px;letter-spacing:0.3px;right:327.90px;text-align:right;">32.2</div>
<div class="t" style="top:937.69px;font-size:11px;line-height:11px;letter-spacing:0.3px;right:274.90px;text-align:right;">32.2</div>
<div class="t" style="top:937.69px;font-size:11px;line-height:11px;letter-spacing:0.3px;right:221.90px;text-align:right;">32.8</div>
<div class="t" style="top:937.69px;font-size:11px;line-height:11px;letter-spacing:0.3px;right:169.90px;text-align:right;">32.8</div>
<div class="t" style="top:937.69px;font-size:11px;line-height:11px;letter-spacing:0.3px;right:110.40px;text-align:right;">33.2</div>
<div class="t" style="top:937.69px;font-size:11px;line-height:11px;letter-spacing:0.3px;right:52.60px;text-align:right;">32.5</div>
<div class="t" style="top:954.69px;font-size:11px;line-height:11px;font-weight:bold;-webkit-text-stroke:0.25px;color:#000080;letter-spacing:0.7px;left:52.00px;">Reported PAT</div>
<div class="t" style="top:954.69px;font-size:11px;line-height:11px;font-weight:bold;-webkit-text-stroke:0.25px;color:#000080;right:552.30px;text-align:right;">1,710</div>
<div class="t" style="top:954.69px;font-size:11px;line-height:11px;font-weight:bold;-webkit-text-stroke:0.25px;color:#000080;right:499.00px;text-align:right;">1,674</div>
<div class="t" style="top:954.69px;font-size:11px;line-height:11px;font-weight:bold;-webkit-text-stroke:0.25px;color:#000080;right:446.00px;text-align:right;">2,255</div>
<div class="t" style="top:954.69px;font-size:11px;line-height:11px;font-weight:bold;-webkit-text-stroke:0.25px;color:#000080;right:392.00px;text-align:right;">2,083</div>
<div class="t" style="top:954.69px;font-size:11px;line-height:11px;font-weight:bold;-webkit-text-stroke:0.25px;color:#000080;right:325.00px;text-align:right;">1,876</div>
<div class="t" style="top:954.69px;font-size:11px;line-height:11px;font-weight:bold;-webkit-text-stroke:0.25px;color:#000080;right:272.00px;text-align:right;">1,801</div>
<div class="t" style="top:954.69px;font-size:11px;line-height:11px;font-weight:bold;-webkit-text-stroke:0.25px;color:#000080;right:219.00px;text-align:right;">1,977</div>
<div class="t" style="top:954.69px;font-size:11px;line-height:11px;font-weight:bold;-webkit-text-stroke:0.25px;color:#000080;right:167.00px;text-align:right;">1,824</div>
<div class="t" style="top:954.69px;font-size:11px;line-height:11px;font-weight:bold;-webkit-text-stroke:0.25px;color:#000080;right:107.50px;text-align:right;">7,722</div>
<div class="t" style="top:954.69px;font-size:11px;line-height:11px;font-weight:bold;-webkit-text-stroke:0.25px;color:#000080;right:49.70px;text-align:right;">7,478</div>
<div class="t" style="top:971.69px;font-size:11px;line-height:11px;font-weight:bold;-webkit-text-stroke:0.25px;color:#000080;letter-spacing:0.5px;left:52.00px;">Adj PAT</div>
<div class="t" style="top:971.69px;font-size:11px;line-height:11px;font-weight:bold;-webkit-text-stroke:0.25px;color:#000080;right:552.30px;text-align:right;">1,710</div>
<div class="t" style="top:971.69px;font-size:11px;line-height:11px;font-weight:bold;-webkit-text-stroke:0.25px;color:#000080;right:499.00px;text-align:right;">1,674</div>
<div class="t" style="top:971.69px;font-size:11px;line-height:11px;font-weight:bold;-webkit-text-stroke:0.25px;color:#000080;right:446.00px;text-align:right;">2,255</div>
<div class="t" style="top:971.69px;font-size:11px;line-height:11px;font-weight:bold;-webkit-text-stroke:0.25px;color:#000080;right:392.00px;text-align:right;">2,083</div>
<div class="t" style="top:971.69px;font-size:11px;line-height:11px;font-weight:bold;-webkit-text-stroke:0.25px;color:#000080;right:325.00px;text-align:right;">1,876</div>
<div class="t" style="top:971.69px;font-size:11px;line-height:11px;font-weight:bold;-webkit-text-stroke:0.25px;color:#000080;right:272.00px;text-align:right;">1,801</div>
<div class="t" style="top:971.69px;font-size:11px;line-height:11px;font-weight:bold;-webkit-text-stroke:0.25px;color:#000080;right:219.00px;text-align:right;">1,977</div>
<div class="t" style="top:971.69px;font-size:11px;line-height:11px;font-weight:bold;-webkit-text-stroke:0.25px;color:#000080;right:167.00px;text-align:right;">1,824</div>
<div class="t" style="top:971.69px;font-size:11px;line-height:11px;font-weight:bold;-webkit-text-stroke:0.25px;color:#000080;right:107.50px;text-align:right;">7,722</div>
<div class="t" style="top:971.69px;font-size:11px;line-height:11px;font-weight:bold;-webkit-text-stroke:0.25px;color:#000080;right:49.70px;text-align:right;">7,478</div>
<div class="t" style="top:987.69px;font-size:11px;line-height:11px;letter-spacing:0.45px;left:64.00px;">Change (%)</div>
<div class="t" style="top:987.69px;font-size:11px;line-height:11px;letter-spacing:0.3px;right:551.70px;text-align:right;">42.7</div>
<div class="t" style="top:987.69px;font-size:11px;line-height:11px;letter-spacing:0.3px;right:498.40px;text-align:right;">28.2</div>
<div class="t" style="top:987.69px;font-size:11px;line-height:11px;letter-spacing:0.3px;right:445.40px;text-align:right;">48.4</div>
<div class="t" style="top:987.69px;font-size:11px;line-height:11px;letter-spacing:0.3px;right:391.40px;text-align:right;">26.2</div>
<div class="t" style="top:987.69px;font-size:11px;line-height:11px;letter-spacing:0.3px;right:324.40px;text-align:right;">9.8</div>
<div class="t" style="top:987.69px;font-size:11px;line-height:11px;letter-spacing:0.3px;right:271.40px;text-align:right;">7.6</div>
<div class="t" style="top:987.69px;font-size:11px;line-height:11px;letter-spacing:0.3px;right:218.40px;text-align:right;">-12.3</div>
<div class="t" style="top:987.69px;font-size:11px;line-height:11px;letter-spacing:0.3px;right:166.40px;text-align:right;">-12.5</div>
<div class="t" style="top:987.69px;font-size:11px;line-height:11px;letter-spacing:0.3px;right:106.90px;text-align:right;">36.1</div>
<div class="t" style="top:987.69px;font-size:11px;line-height:11px;letter-spacing:0.3px;right:49.10px;text-align:right;">-3.2</div>
<div class="r" style="left:50px;top:798px;width:730px;height:1px;background:#0c0a7a"></div>
<div class="r" style="left:50px;top:849px;width:730px;height:1px;background:#0c0a7a"></div>
<div class="r" style="left:50px;top:900px;width:453px;height:1px;background:#0c0a7a"></div>
<div class="r" style="left:503px;top:900px;width:161px;height:1px;background:#000"></div>
<div class="r" style="left:664px;top:900px;width:116px;height:1px;background:#0c0a7a"></div>
<div class="r" style="left:50px;top:950px;width:730px;height:1px;background:#0c0a7a"></div>
<div class="r" style="left:50px;top:1001px;width:730px;height:1px;background:#0c0a7a"></div>
<div class="t" style="top:1005.53px;font-size:10px;line-height:10px;letter-spacing:0.5px;left:52.00px;">E: MOSL Estimates</div>
<div class="r" style="left:50px;top:1100px;width:727px;height:1px;background:#0c0a7a"></div>
</body></html>
